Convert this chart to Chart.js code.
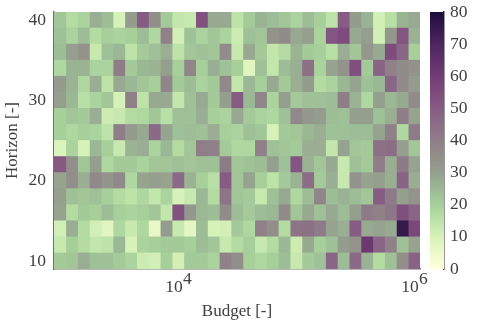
<!DOCTYPE html>
<html><head><meta charset="utf-8">
<style>html,body{margin:0;padding:0;background:#fff;width:480px;height:320px;overflow:hidden}
canvas{position:absolute;top:0}</style>
<script src="https://cdn.jsdelivr.net/npm/chart.js@4"></script></head>
<body><canvas id="m" width="480" height="320" style="left:0"></canvas><canvas id="c" width="60" height="320" style="left:420px"></canvas>
<script>
const budgetExponents=[3.0,3.1,3.2,3.3,3.4,3.5,3.6,3.7,3.8,3.9,4.0,4.1,4.2,4.3,4.4,4.5,4.6,4.7,4.8,4.9,5.0,5.1,5.2,5.3,5.4,5.5,5.6,5.7,5.8,5.9,6.0];
const horizons=[40,38,36,34,32,30,28,26,24,22,20,18,16,14,12,10];
const colorbarTicks=[0,10,20,30,40,50,60,70,80];
const row40=[22,17,19,27,24,10,31,50,35,21,14,13,53,28,28,15,21,26,24,22,19,24,20,15,50,31,26,11,16,26,28];
const row38=[23,19,24,17,20,19,20,24,18,39,11,23,19,22,19,12,23,22,34,36,28,30,19,52,55,28,30,11,32,52,26];
const row36=[24,30,34,13,23,25,15,21,23,27,15,22,23,22,36,13,28,21,14,17,26,21,20,16,27,22,32,28,55,47,20];
const row34=[18,26,26,19,19,40,21,25,26,30,20,38,20,27,23,20,8,23,14,24,27,44,19,29,34,54,21,48,39,36,34];
const row32=[31,26,18,27,15,28,25,22,20,38,21,24,19,21,37,14,25,20,28,21,27,31,17,19,25,29,23,25,47,36,31];
const row30=[30,25,16,19,22,10,39,15,28,28,14,23,28,21,30,50,25,38,19,30,21,23,23,24,40,26,18,30,25,28,36];
const row28=[20,22,21,27,12,13,17,18,22,16,23,23,27,20,19,28,21,19,18,23,37,32,31,24,23,30,30,23,27,40,29];
const row26=[20,18,20,19,15,40,31,28,46,29,23,24,23,27,20,19,23,22,10,21,22,25,27,23,23,24,24,29,39,18,41];
const row24=[9,19,10,25,20,13,26,27,19,25,17,22,40,39,21,18,18,39,23,22,21,27,27,14,29,22,21,44,45,30,22];
const row22=[51,35,22,30,18,21,21,19,22,22,23,22,23,23,41,22,23,24,30,23,52,26,22,28,13,23,21,40,27,41,29];
const row20=[29,35,27,37,33,37,18,29,30,29,46,26,20,16,50,22,29,20,15,21,26,45,21,27,13,34,29,30,27,48,27];
const row18=[30,23,22,23,20,17,15,18,14,19,10,13,25,17,43,22,21,13,23,28,18,24,38,24,26,24,22,50,41,30,34];
const row16=[29,17,21,20,24,20,19,20,22,14,53,32,25,24,36,24,21,24,25,36,22,28,23,28,24,30,41,39,42,54,47];
const row14=[11,27,17,11,8,18,13,18,6,31,13,7,24,10,11,21,18,39,35,17,43,44,41,29,27,50,28,29,28,75,56];
const row12=[13,20,17,14,15,25,10,19,20,21,21,20,24,22,13,17,20,13,17,25,12,28,20,23,31,33,62,47,39,23,29];
const row10=[21,22,27,23,23,21,19,12,11,20,11,21,21,19,39,35,20,18,20,24,13,21,23,47,24,46,26,17,23,35,48];
const rows=[row40,row38,row36,row34,row32,row30,row28,row26,row24,row22,row20,row18,row16,row14,row12,row10];

const FONT='"Liberation Serif",serif', INK='#404040';
const stops=[[0,'#ffffdb'],[5,'#eefac9'],[10,'#d6f2b9'],[15,'#bde3a8'],[20,'#a6cf9a'],[25,'#9bb895'],[30,'#959f8d'],[40,'#8f7e88'],[50,'#875c84'],[60,'#723c74'],[70,'#4e2660'],[80,'#1e0c3a']];
const hex=h=>[1,3,5].map(i=>parseInt(h.substr(i,2),16));
function cmap(v){
  for(let i=1;i<stops.length;i++){ if(v<=stops[i][0]){
    const [a,ca]=stops[i-1],[b,cb]=stops[i],t=(v-a)/(b-a),x=hex(ca),y=hex(cb);
    return 'rgb('+x.map((p,k)=>Math.round(p+(y[k]-p)*t)).join(',')+')';}}
  return stops[stops.length-1][1];
}
const half=0.05;
const datasets=budgetExponents.map((e,col)=>({
  label:'10^'+e,
  data:rows.map(r=>[Math.pow(10,e-half),Math.pow(10,e+half)]),
  backgroundColor:rows.map(r=>cmap(r[col])),
  borderWidth:0,barPercentage:1,categoryPercentage:1,grouped:false
}));
const exponentPlugin={id:'exp',
  beforeDatasetsDraw(ch){const a=ch.chartArea,g=ch.ctx;g.save();g.fillStyle='#a2c298';g.fillRect(a.left,a.top,a.right-a.left,a.bottom-a.top);g.restore();},
  afterDraw(ch){const g=ch.ctx,s=ch.scales.x;g.save();g.font='17.5px '+FONT;g.fillStyle=INK;g.textAlign='left';g.textBaseline='alphabetic';
    g.fillText('4',s.getPixelForValue(1e4)+5,284);g.fillText('6',s.getPixelForValue(1e6)+5,284);g.restore();}};
new Chart(document.getElementById('m'),{type:'bar',plugins:[exponentPlugin],
 data:{labels:horizons,datasets},
 options:{indexAxis:'y',responsive:false,animation:false,devicePixelRatio:1,
  layout:{padding:{top:12,right:60,left:2,bottom:0}},
  plugins:{legend:{display:false},tooltip:{enabled:false}},
  scales:{
   x:{type:'logarithmic',min:Math.pow(10,2.95),max:Math.pow(10,6.05),
      afterBuildTicks(s){s.ticks=[{value:1e4},{value:1e6}];},
      afterFit(s){s.height=51;},
      grid:{display:false,drawTicks:true,tickLength:3,tickColor:'#666',drawOnChartArea:false},
      border:{display:true,color:'#707070',width:1.5},
      ticks:{autoSkip:false,maxRotation:0,minRotation:0,padding:5,labelOffset:-4,color:INK,font:{family:FONT,size:17.5},callback:()=>'10'},
      title:{display:true,text:'Budget [-]',color:INK,font:{family:FONT,size:17},padding:{top:3,bottom:-2}}},
   y:{type:'category',stacked:false,offset:true,
      afterFit(s){s.width=52;},
      grid:{display:false,drawTicks:true,tickLength:8},
      border:{display:true,color:'#707070',width:1.5},
      ticks:{autoSkip:false,padding:0,color:INK,font:{family:FONT,size:17.5},callback(v,i){const h=horizons[i];return h%10===0?String(h):'';}},
      title:{display:true,text:'Horizon [-]',color:INK,font:{family:FONT,size:17},padding:{top:0,bottom:0}}}
  }}});
new Chart(document.getElementById('c'),{type:'bar',
 data:{labels:['colorbar'],datasets:[{label:'scale',data:[[colorbarTicks[0],colorbarTicks[colorbarTicks.length-1]]],borderWidth:0,barPercentage:1,categoryPercentage:1,
   backgroundColor(ctx){const a=ctx.chart.chartArea;if(!a)return '#888';const y=ctx.chart.scales.y,gr=ctx.chart.ctx.createLinearGradient(0,y.getPixelForValue(0),0,y.getPixelForValue(80));
     stops.forEach(([v,c])=>gr.addColorStop(v/80,c));return gr;}}]},
 options:{responsive:false,animation:false,devicePixelRatio:1,
  layout:{padding:{left:10,right:0,top:12,bottom:51}},
  plugins:{legend:{display:false},tooltip:{enabled:false}},
  scales:{
   x:{display:false},
   y:{position:'right',min:0,max:80,
      afterBuildTicks(s){s.ticks=colorbarTicks.map(v=>({value:v}));},
      afterFit(s){s.width=36;},
      grid:{display:false,drawTicks:true,tickLength:6,tickColor:'#333',drawOnChartArea:false},
      border:{display:true,color:'#333',width:1.5},
      ticks:{padding:0,color:INK,font:{family:FONT,size:17.5}}}
  }}});
</script></body></html>
